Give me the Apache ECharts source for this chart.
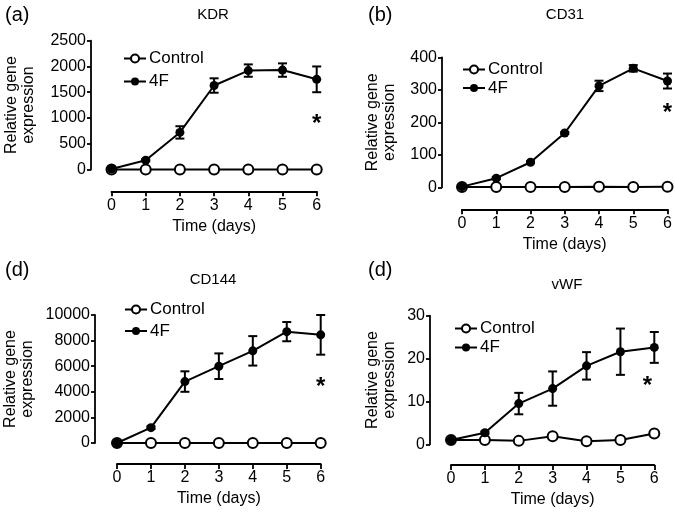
<!DOCTYPE html>
<html>
<head>
<meta charset="utf-8">
<script src="https://cdn.jsdelivr.net/npm/echarts@6/dist/echarts.min.js"></script>
<style>
  html, body { margin: 0; padding: 0; background: #fff; }
  #chart { width: 675px; height: 514px; }
</style>
</head>
<body>
<div id="chart"></div>
<script>
// ---- data ----
const days = [0, 1, 2, 3, 4, 5, 6];

const kdrControl = [0, 0, 0, 0, 0, 0, 0];
const kdr4F      = [10, 180, 720, 1630, 1920, 1930, 1750];
const kdr4FErr   = [0, 20, 120, 140, 120, 130, 250];

const cd31Control = [1, 1, 1, 1, 2, 1, 2];
const cd31_4F     = [2, 28, 77, 167, 312, 366, 327];
const cd31_4FErr  = [0, 3, 3, 3, 16, 10, 23];

const cd144Control = [0, 0, 0, 0, 0, 0, 0];
const cd144_4F     = [0, 1200, 4800, 6000, 7200, 8700, 8450];
const cd144_4FErr  = [0, 100, 800, 1000, 1150, 750, 1550];

const vwfControl = [1, 1, 0.8, 1.9, 0.7, 1, 2.5];
const vwf4F      = [1, 2.7, 9.5, 13, 18.3, 21.6, 22.6];
const vwf4FErr   = [0, 0.3, 2.5, 4, 3.2, 5.4, 3.6];

const panelLabels = ['(a)', '(b)', '(d)', '(d)'];
const geneTitles = ['KDR', 'CD31', 'CD144', 'vWF'];
const yMax = [2500, 400, 10000, 30];
const yInterval = [500, 100, 2000, 10];
const asterisks = [[6, 870], [6, 228], [6, 4350], [5.8, 13.6]];

const panels = [
  { control: kdrControl, f4: kdr4F, err: kdr4FErr },
  { control: cd31Control, f4: cd31_4F, err: cd31_4FErr },
  { control: cd144Control, f4: cd144_4F, err: cd144_4FErr },
  { control: vwfControl, f4: vwf4F, err: vwf4FErr }
];

// ---- layout ----
const FONT = 'Liberation Sans, Arial, sans-serif';
const layout = [
  { grid: { left: 111.5, right: 358.3, top: 40.7, bottom: 344.5 }, yOff: 20.5, xOff: 21.8, nameGap: 54,
    legend: { left: 118, top: 45, itemGap: 6 }, title: [213, 15], label: [5, 15] },
  { grid: { left: 462, right: 7.5, top: 57.3, bottom: 326.7 }, yOff: 20, xOff: 22, nameGap: 44,
    legend: { left: 457, top: 56, itemGap: 1.5 }, title: [565, 15], label: [368, 15] },
  { grid: { left: 117, right: 354.3, top: 315, bottom: 71 }, yOff: 22, xOff: 21, nameGap: 59,
    legend: { left: 119, top: 296, itemGap: 4.5 }, title: [213, 280], label: [5, 270] },
  { grid: { left: 451, right: 20.7, top: 315.7, bottom: 69.7 }, yOff: 21, xOff: 20.7, nameGap: 32,
    legend: { left: 449, top: 315, itemGap: 2 }, title: [567, 285], label: [368, 270] }
];

const grids = [], xAxes = [], yAxes = [], series = [], legends = [], graphics = [];

panels.forEach((p, i) => {
  const L = layout[i];
  grids.push(L.grid);
  xAxes.push({
    gridIndex: i, type: 'value', min: 0, max: 6, interval: 1,
    offset: L.xOff,
    name: 'Time (days)', nameLocation: 'middle', nameGap: 27,
    nameTextStyle: { fontSize: 16, color: '#000', fontFamily: FONT },
    axisLine: { show: true, onZero: false, lineStyle: { color: '#000', width: 1.8 } },
    axisTick: { show: true, length: 5, lineStyle: { color: '#000', width: 1.8 } },
    axisLabel: { color: '#000', fontSize: 16, margin: 6, fontFamily: FONT },
    splitLine: { show: false }
  });
  yAxes.push({
    gridIndex: i, type: 'value', min: 0, max: yMax[i], interval: yInterval[i],
    offset: L.yOff,
    name: 'Relative gene\nexpression', nameLocation: 'middle', nameGap: L.nameGap,
    nameTextStyle: { fontSize: 16, color: '#000', lineHeight: 17, fontFamily: FONT },
    axisLine: { show: true, onZero: false, lineStyle: { color: '#000', width: 1.8 } },
    axisTick: { show: true, length: 4, lineStyle: { color: '#000', width: 1.8 } },
    axisLabel: { color: '#000', fontSize: 16, margin: 5, fontFamily: FONT, formatter: v => String(v) },
    splitLine: { show: false }
  });

  series.push({
    name: 'Control', type: 'line', xAxisIndex: i, yAxisIndex: i,
    data: days.map((d, k) => [d, p.control[k]]),
    symbol: 'circle', symbolSize: 10, clip: false,
    itemStyle: { color: '#fff', borderColor: '#000', borderWidth: 2 },
    lineStyle: { color: '#000', width: 2 },
    z: 3
  });
  series.push({
    name: '4F_err', type: 'custom', xAxisIndex: i, yAxisIndex: i, clip: false,
    data: days.map((d, k) => [d, p.f4[k], p.err[k]]),
    renderItem: function (params, api) {
      const x = api.value(0), m = api.value(1), e = api.value(2);
      if (!e) return null;
      const top = api.coord([x, m + e]);
      const bot = api.coord([x, m - e]);
      const w = 4.5;
      const style = { stroke: '#000', lineWidth: 2 };
      return {
        type: 'group',
        children: [
          { type: 'line', shape: { x1: top[0], y1: top[1], x2: bot[0], y2: bot[1] }, style: style },
          { type: 'line', shape: { x1: top[0] - w, y1: top[1], x2: top[0] + w, y2: top[1] }, style: style },
          { type: 'line', shape: { x1: bot[0] - w, y1: bot[1], x2: bot[0] + w, y2: bot[1] }, style: style }
        ]
      };
    },
    z: 4
  });
  series.push({
    name: '4F', type: 'line', xAxisIndex: i, yAxisIndex: i,
    data: days.map((d, k) => [d, p.f4[k]]),
    symbol: 'circle', symbolSize: 9, clip: false,
    itemStyle: { color: '#000' },
    lineStyle: { color: '#000', width: 2 },
    z: 5,
    markPoint: {
      symbol: 'circle', symbolSize: 1,
      itemStyle: { color: 'rgba(0,0,0,0)' },
      label: { show: true, position: 'inside', formatter: '*', fontSize: 24, fontWeight: 'bold', color: '#000', fontFamily: FONT },
      data: [{ coord: asterisks[i] }]
    }
  });

  legends.push({
    data: ['Control', '4F'], orient: 'vertical',
    left: L.legend.left, top: L.legend.top, itemGap: L.legend.itemGap,
    itemWidth: 22, itemHeight: 10, selectedMode: false,
    textStyle: { fontSize: 17, color: '#000', fontFamily: FONT, padding: [0, 0, 0, -2] }
  });

  graphics.push({
    type: 'text', x: L.title[0], y: L.title[1],
    style: { text: geneTitles[i], fontSize: 15, fill: '#000', textAlign: 'center', textVerticalAlign: 'middle', fontFamily: FONT }
  });
  graphics.push({
    type: 'text', x: L.label[0], y: L.label[1],
    style: { text: panelLabels[i], fontSize: 20, fill: '#000', textAlign: 'left', textVerticalAlign: 'middle', fontFamily: FONT }
  });
});

const chart = echarts.init(document.getElementById('chart'), null, { renderer: 'canvas' });
chart.setOption({
  backgroundColor: '#fff',
  animation: false,
  textStyle: { fontFamily: FONT },
  grid: grids,
  xAxis: xAxes,
  yAxis: yAxes,
  legend: legends,
  series: series,
  graphic: graphics
});
</script>
</body>
</html>
